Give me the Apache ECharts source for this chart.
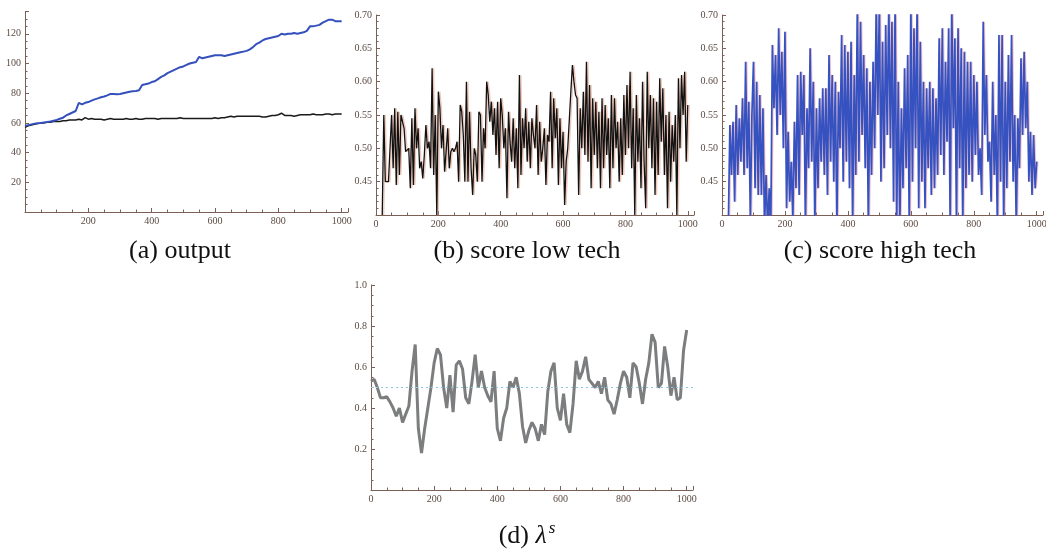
<!DOCTYPE html>
<html>
<head>
<meta charset="UTF-8">
<script src="https://cdn.jsdelivr.net/npm/echarts@6/dist/echarts.min.js"></script>
</head>
<body style="margin:0;background:#fff">
<div id="chart" style="width:1046px;height:551px"></div>
<script>
// (a) output, one value every 10 steps from t=0
var outputHigh = [58, 58.5, 59, 59.5, 59.8, 60, 60.3, 60.6, 61, 61.5,
  62, 62.8, 63.5, 65, 66, 67, 68, 73.5, 72.5, 73.5,
  74, 75, 75.8, 76.5, 77.3, 77.8, 78.5, 79.5, 79.5, 79.3,
  79.5, 80, 80.5, 81, 81.3, 81.5, 82, 85.5, 86, 86.5,
  87.5, 88, 89.5, 91, 92, 93.5, 94.5, 95.5, 96.5, 97.5,
  98, 99, 100, 100.5, 101, 104.5, 103.5, 104, 104.5, 105,
  105.5, 105.5, 105.5, 105, 105.5, 106, 106.5, 107, 107.5, 108,
  108.5, 109.5, 111, 113, 114, 115.5, 116.5, 117, 117.5, 118,
  118.5, 120, 119.5, 120, 120, 120.5, 120, 120.5, 121, 122,
  125, 125, 125.5, 126, 127.5, 128.5, 129.5, 129.5, 128.5, 128.5, 128.5];
var outputLow = [57, 58, 58.5, 59, 59.5, 60, 60, 60.5, 60.5, 61,
  61, 61, 61.5, 61.5, 62, 62, 62, 62.5, 62, 63.5,
  62.5, 63, 62.5, 62.5, 62.5, 62, 62.5, 63, 62.5, 62.5,
  62.5, 62.5, 63, 62.5, 62.5, 63, 62.5, 62.5, 63, 63,
  63, 63, 62.5, 63, 63, 63, 63, 63, 63, 63.5,
  63, 63, 63, 63, 63, 63, 63, 63, 63, 63,
  63.5, 63, 63.5, 63.5, 64, 64.5, 64, 64.5, 64.5, 64.5,
  64.5, 64.5, 64.5, 64.5, 64.5, 64, 64, 64.5, 65, 65,
  65.5, 66.5, 65, 65, 65, 64.5, 65, 65.5, 65.5, 65.5,
  65.5, 66, 65.5, 65.5, 65.5, 66, 66, 65.5, 66, 66, 66];

// (b) score low tech, one value every 5 steps from t=20
var scoreLow = [0.40, 0.55, 0.45, 0.45, 0.45, 0.45, 0.55, 0.47, 0.56, 0.445,
  0.555, 0.46, 0.55, 0.54, 0.53, 0.495, 0.495, 0.50, 0.44, 0.545,
  0.445, 0.56, 0.50, 0.53, 0.47, 0.48, 0.455, 0.49, 0.535, 0.50,
  0.51, 0.47, 0.62, 0.46, 0.55, 0.40, 0.585, 0.56, 0.50, 0.535,
  0.465, 0.495, 0.53, 0.47, 0.495, 0.50, 0.495, 0.50, 0.51, 0.45,
  0.565, 0.555, 0.52, 0.45, 0.60, 0.45, 0.555, 0.47, 0.43, 0.50,
  0.49, 0.45, 0.555, 0.55, 0.45, 0.53, 0.50, 0.60, 0.58, 0.54,
  0.57, 0.52, 0.56, 0.49, 0.57, 0.47, 0.575, 0.55, 0.50, 0.53,
  0.425, 0.555, 0.51, 0.48, 0.545, 0.47, 0.53, 0.44, 0.61, 0.46,
  0.545, 0.50, 0.56, 0.48, 0.54, 0.47, 0.545, 0.52, 0.50, 0.565,
  0.46, 0.54, 0.48, 0.50, 0.53, 0.445, 0.52, 0.51, 0.585, 0.47,
  0.575, 0.515, 0.56, 0.445, 0.545, 0.47, 0.525, 0.415, 0.48, 0.50,
  0.50, 0.585, 0.625, 0.60, 0.58, 0.575, 0.43, 0.56, 0.50, 0.585,
  0.49, 0.63, 0.48, 0.595, 0.44, 0.575, 0.49, 0.57, 0.47, 0.555,
  0.44, 0.575, 0.47, 0.565, 0.49, 0.545, 0.44, 0.58, 0.47, 0.575,
  0.50, 0.54, 0.45, 0.545, 0.46, 0.58, 0.49, 0.595, 0.50, 0.615,
  0.47, 0.56, 0.40, 0.58, 0.48, 0.545, 0.44, 0.60, 0.48, 0.41,
  0.615, 0.50, 0.58, 0.47, 0.575, 0.43, 0.57, 0.46, 0.605, 0.51,
  0.59, 0.46, 0.55, 0.41, 0.555, 0.45, 0.535, 0.48, 0.55, 0.40,
  0.605, 0.50, 0.61, 0.55, 0.615, 0.48, 0.565];

// (c) score high tech, one value every 5 steps from t=20
var scoreHigh = [0.38, 0.535, 0.46, 0.54, 0.42, 0.565, 0.46, 0.545, 0.48, 0.575,
  0.46, 0.63, 0.47, 0.57, 0.39, 0.55, 0.63, 0.44, 0.60, 0.43,
  0.58, 0.43, 0.56, 0.38, 0.46, 0.38, 0.44, 0.38, 0.655, 0.56,
  0.64, 0.52, 0.68, 0.55, 0.645, 0.50, 0.675, 0.41, 0.525, 0.42,
  0.48, 0.39, 0.54, 0.44, 0.61, 0.43, 0.615, 0.52, 0.61, 0.38,
  0.56, 0.47, 0.65, 0.48, 0.60, 0.38, 0.56, 0.44, 0.575, 0.48,
  0.59, 0.46, 0.59, 0.43, 0.64, 0.48, 0.61, 0.45, 0.60, 0.38,
  0.585, 0.50, 0.67, 0.45, 0.655, 0.48, 0.645, 0.44, 0.66, 0.38,
  0.61, 0.46, 0.72, 0.48, 0.69, 0.52, 0.64, 0.47, 0.62, 0.38,
  0.60, 0.46, 0.63, 0.50, 0.72, 0.55, 0.72, 0.45, 0.66, 0.47,
  0.685, 0.52, 0.72, 0.50, 0.69, 0.42, 0.72, 0.38, 0.60, 0.38,
  0.56, 0.44, 0.62, 0.47, 0.64, 0.38, 0.72, 0.45, 0.68, 0.50,
  0.72, 0.41, 0.66, 0.45, 0.60, 0.41, 0.59, 0.47, 0.60, 0.43,
  0.59, 0.44, 0.575, 0.46, 0.665, 0.49, 0.68, 0.46, 0.63, 0.51,
  0.68, 0.38, 0.72, 0.53, 0.665, 0.38, 0.68, 0.47, 0.65, 0.38,
  0.645, 0.44, 0.63, 0.46, 0.63, 0.45, 0.61, 0.49, 0.60, 0.46,
  0.50, 0.43, 0.69, 0.52, 0.61, 0.48, 0.51, 0.42, 0.60, 0.46,
  0.55, 0.38, 0.67, 0.45, 0.67, 0.38, 0.60, 0.44, 0.64, 0.48,
  0.67, 0.45, 0.55, 0.38, 0.545, 0.47, 0.635, 0.52, 0.645, 0.53,
  0.60, 0.45, 0.525, 0.43, 0.52, 0.44, 0.48];

// (d) lambda^s, one value every 10 steps from t=0
var lambdaS = [0.53, 0.54, 0.50, 0.45, 0.45, 0.455, 0.43, 0.40, 0.36, 0.40,
  0.33, 0.37, 0.41, 0.58, 0.71, 0.30, 0.18, 0.30, 0.40, 0.50,
  0.62, 0.69, 0.66, 0.50, 0.40, 0.56, 0.38, 0.61, 0.63, 0.59,
  0.45, 0.42, 0.53, 0.66, 0.50, 0.58, 0.50, 0.46, 0.43, 0.58,
  0.30, 0.24, 0.35, 0.40, 0.53, 0.50, 0.55, 0.47, 0.31, 0.23,
  0.29, 0.33, 0.30, 0.24, 0.32, 0.27, 0.48, 0.58, 0.62, 0.40,
  0.34, 0.47, 0.32, 0.28, 0.42, 0.63, 0.54, 0.58, 0.65, 0.54,
  0.52, 0.50, 0.53, 0.47, 0.55, 0.44, 0.42, 0.37, 0.44, 0.52,
  0.58, 0.55, 0.45, 0.62, 0.60, 0.52, 0.42, 0.54, 0.62, 0.76,
  0.72, 0.50, 0.52, 0.70, 0.60, 0.46, 0.55, 0.44, 0.45, 0.68, 0.78];
var lambdaRef = 0.5;

var xTicks = [200, 400, 600, 800, 1000];
var captions = ['(a) output', '(b) score low tech', '(c) score high tech'];

function toPairs(start, step, ys) {
  return ys.map(function (y, i) { return [start + i * step, y]; });
}

var axisColor = '#7a6055';
var labelColor = '#5b4a42';
var serif = 'Liberation Serif';

function xAxisFor(gridIndex, showZero) {
  return {
    type: 'value', gridIndex: gridIndex, min: 0, max: 1020, interval: 200,
    axisLine: { lineStyle: { color: axisColor, width: 1 } },
    axisTick: { inside: true, length: 4, lineStyle: { color: axisColor } },
    minorTick: { show: true, splitNumber: 4, length: 2.5, lineStyle: { color: axisColor } },
    splitLine: { show: false },
    axisLabel: {
      color: labelColor, fontFamily: serif, fontSize: 10, margin: 4,
      formatter: function (v) {
        if (v === 0) return showZero ? '0' : '';
        return xTicks.indexOf(v) >= 0 ? String(v) : '';
      }
    }
  };
}

function yAxisFor(gridIndex, min, max, interval, minor, digits) {
  return {
    type: 'value', gridIndex: gridIndex, min: min, max: max, interval: interval,
    axisLine: { show: true, lineStyle: { color: axisColor, width: 1 } },
    axisTick: { show: true, inside: true, length: 4, lineStyle: { color: axisColor } },
    minorTick: { show: true, splitNumber: minor, length: 2.5, lineStyle: { color: axisColor } },
    splitLine: { show: false },
    axisLabel: {
      color: labelColor, fontFamily: serif, fontSize: 10, margin: 4,
      formatter: function (v) {
        if (v <= min + 1e-9 || v > max - interval + 1e-9 && Math.abs((v - min) / interval - Math.round((v - min) / interval)) > 1e-6) return '';
        return digits ? v.toFixed(digits) : String(v);
      }
    }
  };
}

var chart = echarts.init(document.getElementById('chart'));
chart.setOption({
  animation: false,
  backgroundColor: '#fff',
  grid: [
    { left: 25, top: 11.5, width: 323, height: 200.5, outerBoundsMode: 'none' },
    { left: 376, top: 15, width: 318, height: 200, outerBoundsMode: 'none' },
    { left: 722, top: 15, width: 321, height: 200, outerBoundsMode: 'none' },
    { left: 371, top: 285, width: 322, height: 205, outerBoundsMode: 'none' }
  ],
  xAxis: [xAxisFor(0, false), xAxisFor(1, true), xAxisFor(2, true), xAxisFor(3, true)],
  yAxis: [
    yAxisFor(0, 0, 135, 20, 4, 0),
    yAxisFor(1, 0.40, 0.70, 0.05, 5, 2),
    yAxisFor(2, 0.40, 0.70, 0.05, 5, 2),
    yAxisFor(3, 0, 1.0, 0.2, 4, 1)
  ],
  series: [
    { type: 'line', xAxisIndex: 0, yAxisIndex: 0, data: toPairs(0, 10, outputLow), showSymbol: false,
      lineStyle: { color: '#1a1a1a', width: 1.5 } },
    { type: 'line', xAxisIndex: 0, yAxisIndex: 0, data: toPairs(0, 10, outputHigh), showSymbol: false,
      lineStyle: { color: '#3450bc', width: 2 } },
    { type: 'line', xAxisIndex: 1, yAxisIndex: 1, data: toPairs(20, 5, scoreLow), showSymbol: false, clip: true,
      lineStyle: { color: '#111', width: 1.3, shadowColor: 'rgba(220,130,100,0.45)', shadowOffsetX: 1.5 } },
    { type: 'line', xAxisIndex: 2, yAxisIndex: 2, data: toPairs(20, 5, scoreHigh), showSymbol: false, clip: true,
      lineStyle: { color: '#3652c0', width: 1.7, shadowColor: 'rgba(220,100,120,0.4)', shadowOffsetX: 1 } },
    { type: 'line', xAxisIndex: 3, yAxisIndex: 3, data: toPairs(0, 10, lambdaS), showSymbol: false,
      lineStyle: { color: '#7b7d7e', width: 3 },
      markLine: { silent: true, symbol: 'none', label: { show: false },
        lineStyle: { color: '#8cc4e6', type: [2, 3], width: 1 },
        data: [{ yAxis: lambdaRef }] } }
  ],
  graphic: [
    { type: 'text', x: 180, y: 251, style: { text: captions[0], fill: '#111', font: '26px "Liberation Serif"', align: 'center', verticalAlign: 'middle' } },
    { type: 'text', x: 527, y: 251, style: { text: captions[1], fill: '#111', font: '26px "Liberation Serif"', align: 'center', verticalAlign: 'middle' } },
    { type: 'text', x: 880, y: 251, style: { text: captions[2], fill: '#111', font: '26px "Liberation Serif"', align: 'center', verticalAlign: 'middle' } },
    { type: 'text', x: 527, y: 536, style: {
        text: '(d) {l|λ}{s|s}', fill: '#111', font: '26px "Liberation Serif"', align: 'center', verticalAlign: 'middle',
        rich: {
          l: { fontFamily: serif, fontSize: 26, fontStyle: 'italic', fill: '#111' },
          s: { fontFamily: serif, fontSize: 17, fontStyle: 'italic', fill: '#111', padding: [0, 0, 14, 2] }
        } } }
  ]
});
</script>
</body>
</html>
